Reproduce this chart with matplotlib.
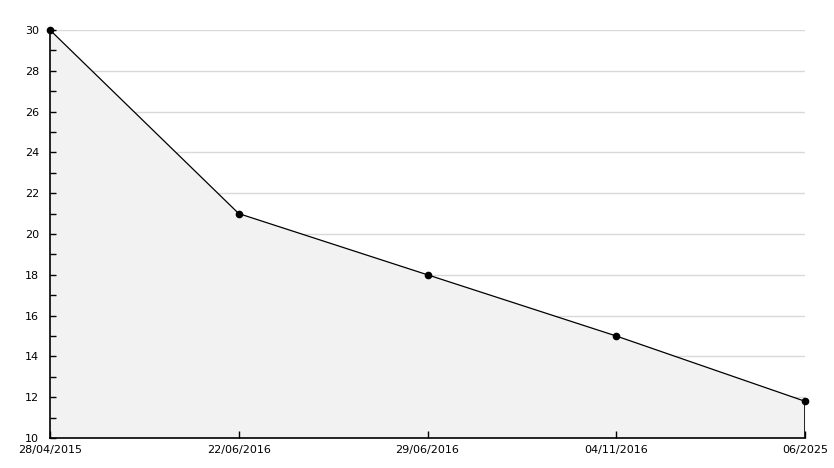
import matplotlib
matplotlib.use("Agg")
import matplotlib.pyplot as plt
from matplotlib.ticker import MultipleLocator

# data
dates = ["28/04/2015", "22/06/2016", "29/06/2016", "04/11/2016", "06/2025"]
values = [30, 21, 18, 15, 11.8]
y_grid = [12, 14, 16, 18, 20, 22, 24, 26, 28, 30]

x = list(range(len(dates)))

fig = plt.figure(figsize=(8.34, 4.68), dpi=100)
ax = fig.add_axes([50 / 834, 30 / 468, 755 / 834, 408 / 468])

# grid under the fill, ticks/spines above it
ax.hlines(y_grid, 0, len(dates) - 1, color="#d9d9d9", linewidth=1, zorder=1)
ax.fill_between(x, values, 10, color="#f2f2f2", zorder=1.5, linewidth=0)
ax.plot(x, values, color="black", linewidth=0.9, marker="o", markersize=4.5,
        zorder=3, clip_on=False)
ax.vlines(x[-1], 10, values[-1], color="black", linewidth=1.2, zorder=3)

ax.set_xlim(0, len(dates) - 1)
ax.set_ylim(10, 30)
ax.set_xticks(x)
ax.set_xticklabels(dates)
ax.yaxis.set_major_locator(MultipleLocator(2))
ax.yaxis.set_minor_locator(MultipleLocator(1))

for s in ["top", "right"]:
    ax.spines[s].set_visible(False)
ax.spines["left"].set_linewidth(1.2)
ax.spines["bottom"].set_linewidth(1.2)

ax.tick_params(axis="y", which="both", direction="in", length=4, width=1, pad=8, labelsize=8)
ax.tick_params(axis="x", direction="in", length=5, width=1, pad=5, labelsize=8)

plt.savefig("out.png", dpi=100)
